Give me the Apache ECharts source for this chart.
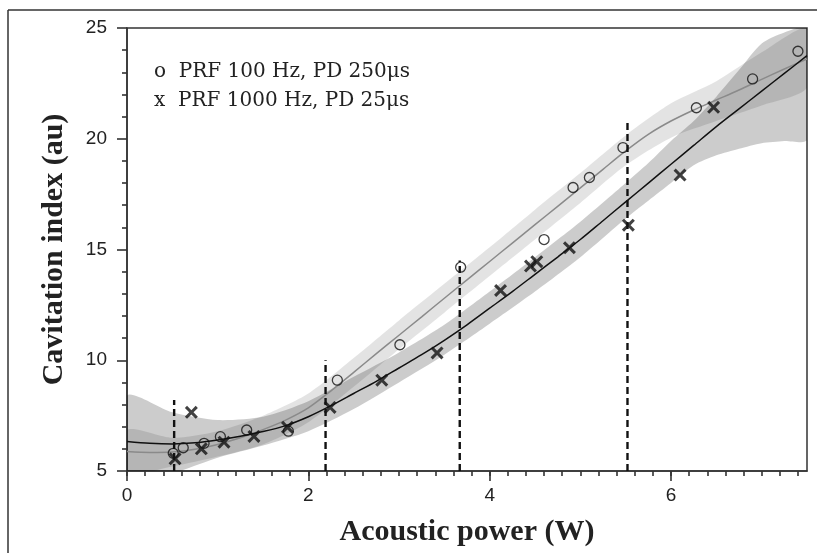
<!DOCTYPE html>
<html>
<head>
<meta charset="utf-8">
<script src="https://cdn.jsdelivr.net/npm/echarts@6/dist/echarts.min.js"></script>
<style>
  html, body { margin: 0; padding: 0; background: #fff; }
  #chart { width: 817px; height: 553px; }
</style>
</head>
<body>
<div id="chart"></div>
<script>
// Measured points: PRF 100 Hz, PD 250 µs (open circles)
const circlePts = [
  [0.51, 5.8], [0.62, 6.05], [0.85, 6.25], [1.03, 6.55], [1.32, 6.85],
  [1.78, 6.8], [2.32, 9.1], [3.01, 10.7], [3.68, 14.2], [4.6, 15.45],
  [4.92, 17.8], [5.1, 18.25], [5.47, 19.6], [6.28, 21.4], [6.9, 22.7],
  [7.4, 23.95]
];
// Measured points: PRF 1000 Hz, PD 25 µs (crosses)
const crossPts = [
  [0.53, 5.55], [0.71, 7.65], [0.82, 6.0], [1.07, 6.3], [1.4, 6.56],
  [1.77, 6.97], [2.24, 7.87], [2.81, 9.1], [3.42, 10.33], [4.12, 13.15],
  [4.45, 14.25], [4.52, 14.45], [4.88, 15.08], [5.53, 16.1], [6.1, 18.36],
  [6.47, 21.42]
];
// Fitted curve through the circles
const circleFit = [
  [0, 5.88], [0.25, 5.84], [0.5, 5.86], [0.75, 5.98], [1, 6.2], [1.25, 6.5],
  [1.5, 6.87], [1.75, 7.3], [2, 7.85], [2.25, 8.62], [2.5, 9.45], [2.75, 10.3],
  [3, 11.13], [3.25, 11.96], [3.5, 12.8], [3.75, 13.63], [4, 14.46], [4.25, 15.29],
  [4.5, 16.12], [4.75, 16.95], [5, 17.78], [5.25, 18.62], [5.5, 19.45],
  [5.75, 20.2], [6, 20.8], [6.25, 21.3], [6.5, 21.75], [6.75, 22.2],
  [7, 22.68], [7.25, 23.15], [7.5, 23.6]
];
// Fitted curve through the crosses
const crossFit = [
  [0, 6.33], [0.25, 6.25], [0.5, 6.22], [0.75, 6.27], [1, 6.4], [1.25, 6.57],
  [1.5, 6.78], [1.75, 7.05], [2, 7.45], [2.25, 7.95], [2.5, 8.5], [2.75, 9.05],
  [3, 9.65], [3.25, 10.25], [3.5, 10.9], [3.75, 11.6], [4, 12.35], [4.25, 13.1],
  [4.5, 13.88], [4.75, 14.66], [5, 15.45], [5.25, 16.3], [5.5, 17.15],
  [5.75, 18.0], [6, 18.85], [6.25, 19.7], [6.5, 20.55], [6.75, 21.35],
  [7, 22.15], [7.25, 22.95], [7.5, 23.75]
];
// Confidence bands: [x, lower, upper]
const circleBand = [
  [0, 4.9, 6.85], [0.5, 5.2, 6.5], [1, 5.65, 6.8], [1.5, 6.2, 7.5],
  [2, 7.2, 8.5], [2.5, 8.8, 10.1], [3, 10.5, 11.8], [3.5, 12.15, 13.45],
  [4, 13.8, 15.1], [4.5, 15.45, 16.8], [5, 17.1, 18.45], [5.5, 18.8, 20.15],
  [6, 20.05, 21.6], [6.5, 20.8, 22.6], [7, 21.5, 23.9], [7.5, 22.3, 25.0]
];
const crossBand = [
  [0, 4.6, 8.4], [0.5, 4.9, 7.65], [1, 5.6, 7.3], [1.5, 6.15, 7.45],
  [2, 6.8, 8.15], [2.5, 7.8, 9.25], [3, 9.0, 10.35], [3.5, 10.25, 11.6],
  [4, 11.65, 13.1], [4.5, 13.1, 14.65], [5, 14.65, 16.25], [5.5, 16.4, 18.0],
  [5.75, 17.2, 18.9], [6, 18.0, 19.9], [6.25, 18.8, 20.8], [6.5, 19.25, 21.9],
  [6.75, 19.55, 23.1], [7, 19.8, 24.3], [7.25, 19.9, 24.8], [7.5, 19.95, 25.0]
];
// Vertical dashed markers: x position and top value
const dashX = [0.52, 2.19, 3.67, 5.52];
const dashTop = [8.2, 10.0, 14.5, 20.8];

const xMajor = [0, 2, 4, 6];
const xMinor = [];
for (let i = 0; i <= 37; i++) xMinor.push(+(i * 0.2).toFixed(1));

const legendLines = ['o  PRF 100 Hz, PD 250\u03bcs', 'x  PRF 1000 Hz, PD 25\u03bcs'];

const crossSymbol = 'path://M2,0 L6,4 L10,0 L12,2 L8,6 L12,10 L10,12 L6,8 L2,12 L0,10 L4,6 L0,2 Z';

function bandSeries(band, fill) {
  return {
    type: 'custom',
    data: band,
    silent: true,
    clip: true,
    z: 1,
    encode: { x: 0, y: [1, 2] },
    renderItem: function (params, api) {
      if (params.dataIndex !== 0) return null;
      const upper = band.map(d => api.coord([d[0], d[2]]));
      const lower = band.slice().reverse().map(d => api.coord([d[0], d[1]]));
      const cs = params.coordSys;
      return {
        type: 'polygon',
        shape: { points: upper.concat(lower), smooth: 0.25 },
        style: { fill: fill },
        clipPath: { type: 'rect', shape: { x: cs.x, y: cs.y, width: cs.width, height: cs.height } }
      };
    }
  };
}

const dashSeries = dashX.map((x, i) => ({
  type: 'line',
  data: [[x, 5], [x, dashTop[i]]],
  showSymbol: false,
  silent: true,
  z: 3,
  lineStyle: { color: '#111', width: 2.4, type: [7, 4] }
}));

const tickStyle = { color: '#333', width: 1.6 };

const chart = echarts.init(document.getElementById('chart'), null, { renderer: 'canvas' });

chart.setOption({
  animation: false,
  backgroundColor: '#fff',
  grid: {
    left: 127, right: 10, top: 28, bottom: 82,
    show: true, borderColor: '#333', borderWidth: 1.5
  },
  xAxis: [{
    type: 'value', min: 0, max: 7.5,
    name: 'Acoustic power (W)', nameLocation: 'middle', nameGap: 46,
    nameTextStyle: { fontFamily: 'Liberation Serif', fontWeight: 'bold', fontSize: 30, color: '#222' },
    axisLine: { show: true, lineStyle: { color: '#333', width: 1.5 } },
    axisTick: { show: true, inside: false, customValues: xMajor, length: 10, lineStyle: tickStyle },
    axisLabel: { show: true, customValues: xMajor, margin: 15, fontFamily: 'Liberation Sans', fontSize: 19, color: '#222' },
    splitLine: { show: false }
  }, {
    type: 'value', min: 0, max: 7.5, position: 'bottom',
    axisLine: { show: false },
    axisTick: { show: true, inside: false, customValues: xMinor, length: 5, lineStyle: tickStyle },
    axisLabel: { show: false },
    splitLine: { show: false }
  }],
  yAxis: {
    type: 'value', min: 5, max: 25, interval: 5,
    name: 'Cavitation index (au)', nameLocation: 'middle', nameGap: 58,
    nameTextStyle: { fontFamily: 'Liberation Serif', fontWeight: 'bold', fontSize: 30, color: '#222' },
    axisLine: { show: true, lineStyle: { color: '#333', width: 1.5 } },
    axisTick: { show: true, inside: false, length: 10, lineStyle: tickStyle },
    minorTick: { show: true, splitNumber: 5, length: 5, lineStyle: tickStyle },
    axisLabel: { margin: 20, fontFamily: 'Liberation Sans', fontSize: 19, color: '#222' },
    splitLine: { show: false },
    minorSplitLine: { show: false }
  },
  graphic: [
    { type: 'line', silent: true, shape: { x1: 8, y1: 10, x2: 817, y2: 10 }, style: { stroke: '#333', lineWidth: 1.5 } },
    { type: 'line', silent: true, shape: { x1: 8, y1: 10, x2: 8, y2: 553 }, style: { stroke: '#333', lineWidth: 1.5 } },
    { type: 'text', left: 154, top: 62, silent: true,
      style: { text: legendLines[0], fontFamily: 'DejaVu Serif', fontSize: 20, fill: '#222' } },
    { type: 'text', left: 154, top: 91, silent: true,
      style: { text: legendLines[1], fontFamily: 'DejaVu Serif', fontSize: 20, fill: '#222' } }
  ],
  series: [
    bandSeries(circleBand, 'rgba(0,0,0,0.11)'),
    bandSeries(crossBand, 'rgba(0,0,0,0.2)'),
    {
      type: 'line', data: circleFit, smooth: 0.3, showSymbol: false, silent: true, z: 2,
      lineStyle: { color: '#8a8a8a', width: 1.5 }
    },
    {
      type: 'line', data: crossFit, smooth: 0.3, showSymbol: false, silent: true, z: 2,
      lineStyle: { color: '#111', width: 1.5 }
    },
    ...dashSeries,
    {
      type: 'scatter', data: circlePts, symbol: 'circle', symbolSize: 10, z: 4,
      itemStyle: { color: 'rgba(255,255,255,0)', borderColor: '#111', borderWidth: 1.3 }
    },
    {
      type: 'scatter', data: crossPts, symbol: crossSymbol, symbolSize: 13, z: 5,
      itemStyle: { color: '#111' }
    }
  ]
});
</script>
</body>
</html>
